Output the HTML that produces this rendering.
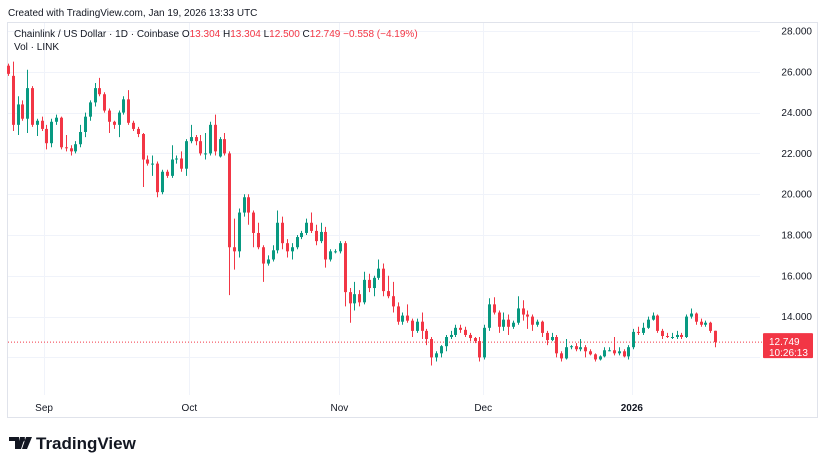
<!DOCTYPE html>
<html><head><meta charset="utf-8"><style>
body{margin:0;background:#fff;font-family:"Liberation Sans",sans-serif;}
svg{display:block}
</style></head><body>
<svg id="chart" width="825" height="467" xmlns="http://www.w3.org/2000/svg">
<text x="8" y="16" font-size="10" fill="#131722">Created with TradingView.com, Jan 19, 2026 13:33 UTC</text>
<rect x="7.5" y="22.5" width="810" height="395" fill="none" stroke="#e0e3eb"/>
<g id="grid"></g>
<g id="candles"></g>
<g id="yaxis"></g>
<g id="xaxis"></g>
<text x="14" y="37" font-size="10" fill="#131722">Chainlink / US Dollar · 1D · Coinbase <tspan fill="#131722">O</tspan><tspan fill="#f23645">13.304</tspan> <tspan fill="#131722">H</tspan><tspan fill="#f23645">13.304</tspan> <tspan fill="#131722">L</tspan><tspan fill="#f23645">12.500</tspan> <tspan fill="#131722">C</tspan><tspan fill="#f23645">12.749 −0.558 (−4.19%)</tspan></text>
<text x="14" y="50" font-size="10" fill="#131722">Vol · LINK</text>
<g>
<path d="M9 437h10v12h-4v-8h-6z M20 437h5l-4 12h-4z" fill="#131722"/>
<circle cx="23" cy="439.5" r="2" fill="#131722"/>
<path d="M26 437h6l-5 12h-5z" fill="#131722"/>
<text x="36" y="449" font-size="17" font-weight="bold" fill="#131722">TradingView</text>
</g>
</svg>
<script>
const opens=[26.3,25.8,23.4,24.4,23.7,25.2,23.4,23.6,23.2,22.5,23.55,23.75,22.3,22.25,22.1,22.45,23.05,23.8,24.5,25.2,24.9,24.1,23.55,23.4,24.0,24.65,23.5,23.2,22.95,21.7,21.5,21.5,20.1,21.1,20.9,21.7,21.75,21.25,22.6,22.8,22.6,22.0,22.0,23.4,21.85,22.7,22.0,17.4,17.2,19.1,
19.85,19.1,18.1,17.4,16.6,16.8,17.25,18.6,17.6,17.2,17.4,17.9,18.1,18.6,18.2,17.7,18.15,16.8,17.2,17.2,17.6,15.2,14.65,15.1,14.7,15.8,15.4,15.9,16.35,15.25,15.0,14.5,13.75,14.05,13.8,13.3,13.75,13.3,12.9,12.0,12.2,12.55,13.0,13.1,13.45,13.35,
13.1,12.95,12.8,12.0,13.45,14.6,14.2,13.5,13.85,13.5,13.7,14.4,14.1,14.0,13.6,13.75,13.2,12.85,13.0,12.2,11.95,12.5,12.55,12.4,12.5,12.3,12.15,11.9,12.05,12.35,12.35,12.2,12.3,12.05,12.5,13.25,13.2,13.45,13.85,14.05,13.3,13.05,13.0,13.0,13.1,13.0,14.0,14.15,13.75,13.6,13.7,13.304];
const highs=[26.4,26.5,24.8,24.6,26.1,25.3,23.7,23.8,23.4,23.7,23.9,23.8,22.9,22.4,22.6,23.4,24.0,24.6,25.45,25.7,25.0,24.2,23.6,24.1,24.8,25.1,23.6,23.3,23.0,21.9,21.9,21.6,21.2,21.2,22.4,21.9,22.1,22.7,23.4,22.9,22.9,23.0,23.55,23.9,22.8,23.0,22.1,18.8,19.3,20.0,
20.0,19.2,18.6,17.5,17.0,17.5,19.2,18.9,17.8,17.6,18.0,18.2,18.8,19.1,18.5,18.6,18.4,17.3,17.3,17.7,17.7,15.4,15.7,15.3,16.2,16.1,16.0,16.8,16.6,16.0,15.7,14.7,14.2,14.6,13.9,13.9,14.2,13.4,13.0,12.3,12.6,13.1,13.3,13.6,13.6,13.5,
13.2,13.0,13.0,13.6,14.9,14.95,14.3,14.2,14.1,13.8,15.0,14.8,14.3,14.1,13.85,13.8,13.3,13.2,13.1,12.3,12.9,12.6,12.7,12.9,12.6,12.4,12.2,12.1,12.5,12.5,13.0,12.5,12.4,12.6,13.4,13.5,13.7,14.0,14.2,14.1,13.4,13.2,13.2,13.3,13.2,14.1,14.4,14.2,13.9,13.8,13.75,13.304];
const lows=[25.8,23.1,22.9,23.6,23.0,23.3,22.85,23.1,22.2,22.3,23.4,22.2,22.1,21.9,22.0,22.3,22.8,23.6,24.3,24.8,24.0,23.0,23.2,22.8,23.9,23.4,23.1,22.8,20.35,21.4,20.9,19.85,20.0,20.8,20.8,21.5,21.1,20.9,22.5,22.4,21.9,21.7,21.9,21.9,21.8,21.9,15.05,16.3,16.9,18.9,
18.5,17.4,17.3,15.7,16.5,16.7,17.1,17.3,16.9,16.8,17.3,17.8,18.0,18.1,17.5,17.6,16.4,16.7,17.1,17.1,14.5,13.7,14.3,14.5,14.6,15.2,15.0,15.8,15.0,14.9,14.2,13.6,13.6,13.7,13.0,13.2,12.9,12.6,11.6,11.8,12.0,12.3,12.9,13.0,13.2,13.0,
12.8,12.7,11.8,11.9,13.3,14.1,13.2,13.3,13.1,13.4,13.6,13.8,13.4,13.3,13.5,13.0,12.6,12.8,12.0,11.8,11.9,12.4,12.3,12.3,12.0,12.1,11.8,11.85,12.0,12.3,12.1,12.1,12.0,11.9,12.4,13.1,13.1,13.4,13.8,13.2,12.9,12.95,12.9,12.9,12.9,12.95,13.9,13.6,13.5,13.5,13.2,12.5];
const closes=[25.9,23.4,24.4,23.7,25.2,23.4,23.6,23.2,22.5,23.55,23.75,22.3,22.25,22.1,22.45,23.05,23.8,24.5,25.2,24.9,24.1,23.55,23.4,24.0,24.65,23.5,23.2,22.95,21.7,21.5,21.5,20.1,21.1,20.9,21.7,21.75,21.25,22.6,22.8,22.6,22.0,22.0,23.4,22.1,22.7,22.0,17.4,17.2,19.1,19.85,
19.1,18.1,17.4,16.6,16.8,17.25,18.6,17.6,17.2,17.4,17.9,18.1,18.6,18.2,17.7,18.15,16.8,17.2,17.2,17.6,15.2,14.65,15.1,14.7,15.8,15.4,15.9,16.35,15.25,15.0,14.5,13.75,14.05,13.8,13.3,13.75,13.3,12.9,12.0,12.2,12.55,13.0,13.1,13.45,13.35,13.1,
12.95,12.8,12.0,13.45,14.6,14.2,13.5,13.85,13.5,13.7,14.4,14.1,14.0,13.6,13.75,13.2,12.85,13.0,12.2,11.95,12.5,12.55,12.4,12.5,12.3,12.15,11.9,12.05,12.35,12.35,12.2,12.3,12.05,12.5,13.25,13.2,13.45,13.85,14.05,13.3,13.05,13.0,13.0,13.1,13.0,14.0,14.15,13.75,13.6,13.7,13.3,12.749];
const priceTicks=[28,26,24,22,20,18,16,14];
const monthLabels=["Sep","Oct","Nov","Dec","2026"];
const monthIndex=[7.5,37.7,68.9,98.8,129.7];
const lastPrice=12.749;
const countdown="10:26:13";

const NS="http://www.w3.org/2000/svg";
function y(p){return 31+(28-p)*20.4;}
function x(i){return 8+i*4.81;}
function mk(tag,attrs,parent){const e=document.createElementNS(NS,tag);for(const k in attrs)e.setAttribute(k,attrs[k]);parent.appendChild(e);return e;}
const grid=document.getElementById('grid'),cg=document.getElementById('candles'),ya=document.getElementById('yaxis'),xa=document.getElementById('xaxis');
priceTicks.concat([12]).forEach(p=>{
  const l=mk('line',{x1:8,x2:760,y1:Math.round(y(p))+0.5,y2:Math.round(y(p))+0.5,stroke:'#f0f3fa'},grid);
  
  
});
monthIndex.forEach(m=>{
  const l=mk('line',{x1:Math.round(x(m))+0.5,x2:Math.round(x(m))+0.5,y1:23,y2:395,stroke:'#f0f3fa'},grid);
  
  
});
priceTicks.forEach(p=>{
  const t=mk('text',{x:812,y:y(p)+3.5,'font-size':10,fill:'#131722','text-anchor':'end'},ya);
  t.textContent=p.toFixed(3);
  
  
});
monthLabels.forEach((s,k)=>{
  const t=mk('text',{x:x(monthIndex[k]),y:411,'font-size':10,fill:'#131722','text-anchor':'middle','font-weight':s==='2026'?'bold':'normal'},xa);
  t.textContent=s;
  
  
});
closes.forEach((c,i)=>{
  const o=opens[i],up=c>=o,col=up?'#089981':'#f23645';
  const g=mk('g',{},cg);
  
  
  const cx=Math.round(x(i))+0.5;
  mk('line',{x1:cx,x2:cx,y1:y(highs[i]),y2:y(lows[i]),stroke:col,'stroke-width':1},g);
  const top=y(Math.max(o,c)),h=Math.max(1,Math.abs(y(o)-y(c)));
  mk('rect',{x:cx-1.5,y:top,width:3,height:h,fill:col},g);
});
const ly=y(lastPrice);
const pl=mk('line',{x1:8,x2:762,y1:ly,y2:ly,stroke:'#f23645','stroke-dasharray':'1,2','stroke-width':1},grid);


const bx=mk('rect',{x:763,y:ly-9,width:50,height:25,fill:'#f23645',rx:1},ya);


const t1=mk('text',{x:769,y:ly+3,'font-size':10,fill:'#fff'},ya);t1.textContent=lastPrice.toFixed(3);


const t2=mk('text',{x:769,y:ly+14,'font-size':10,fill:'#fff'},ya);t2.textContent=countdown;


</script>
</body></html>
